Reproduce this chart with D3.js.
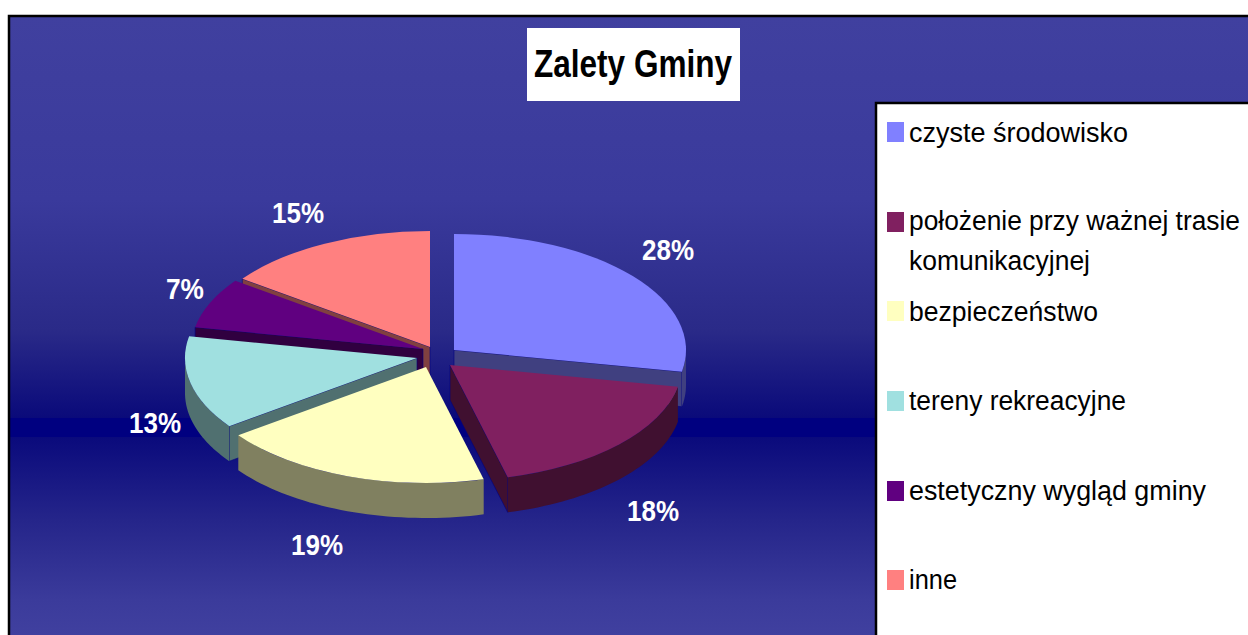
<!DOCTYPE html>
<html><head><meta charset="utf-8">
<script src="https://cdn.jsdelivr.net/npm/d3@7"></script>
<style>html,body{margin:0;padding:0;background:#fff;overflow:hidden}svg{display:block}text{font-family:"Liberation Sans",Arial,sans-serif}</style>
</head><body><svg id="c" width="1248" height="635"></svg>
<script>
const categories = ["czyste środowisko","położenie przy ważnej trasie komunikacyjnej","bezpieczeństwo","tereny rekreacyjne","estetyczny wygląd gminy","inne"];
const values = [28,18,19,13,7,15];
const topColors = ["#8080ff","#802060","#ffffc0","#a0e0e0","#600080","#ff8080"];
const wallColors = ["#404080","#401030","#808060","#507070","#300040","#804040"];
const legendLines = [["czyste środowisko"],["położenie przy ważnej trasie","komunikacyjnej"],["bezpieczeństwo"],["tereny rekreacyjne"],["estetyczny wygląd gminy"],["inne"]];

// layout
const W=1248,H=635,RX=232,RY=116,DEPTH=35,k=RY/RX;
const centers=[[454,350],[450,365],[426,367],[417,358],[423,349],[430,347]];
const labelPos=[[668,260],[653,521],[317,555],[155,433],[185,299],[298,223]];
const legendTop=[122,212,301,391,481,570];
const legendBase=[[142],[230,270],[321],[410],[500],[589]];
const legendWidth=[[219],[331,181],[189],[217],[297],[48]];
const drawOrder=[0,5,4,3,1,2];

const svg=d3.select("#c");
const defs=svg.append("defs");
const g=defs.append("linearGradient").attr("id","bg").attr("gradientUnits","userSpaceOnUse").attr("x1",0).attr("y1",0).attr("x2",0).attr("y2",H);
[[17,"#40409f"],[200,"#3a3a9c"],[330,"#2a2a88"],[418,"#0a0a7a"],[418,"#000080"],[437,"#000080"],[437,"#0a0a7c"],[520,"#25258a"],[600,"#3b3b9b"],[635,"#40409f"]]
 .forEach(([o,c])=>g.append("stop").attr("offset",o/H).attr("stop-color",c));

svg.append("rect").attr("x",9).attr("y",16).attr("width",W).attr("height",H).attr("fill","url(#bg)").attr("stroke","#000").attr("stroke-width",2.5);

// title
svg.append("rect").attr("x",527).attr("y",28).attr("width",213).attr("height",73).attr("fill","#fff");
svg.append("text").attr("x",534).attr("y",77).attr("font-size",38).attr("font-weight","bold").attr("textLength",198).attr("lengthAdjust","spacingAndGlyphs").attr("fill","#000").text("Zalety Gminy");

// pie
const arcs=d3.pie().sort(null).value(d=>d)(values);
const arc=d3.arc().innerRadius(0).outerRadius(RX);
const px=(c,a)=>c[0]+RX*Math.sin(a), py=(c,a)=>c[1]-RY*Math.cos(a);
const line=d3.line();
const pieG=svg.append("g");
const P=Math.PI;
drawOrder.forEach(i=>{
  const a=arcs[i],c=centers[i],a0=a.startAngle,a1=a.endAngle;
  const walls=pieG.append("g").attr("fill",wallColors[i]);
  const radial=(ang)=>[[c[0],c[1]],[px(c,ang),py(c,ang)],[px(c,ang),py(c,ang)+DEPTH],[c[0],c[1]+DEPTH]];
  if(Math.cos(a0-P/2)<-0.01) walls.append("path").attr("d",line(radial(a0))+"Z").attr("stroke","#000080").attr("stroke-width",0.6);
  if(Math.cos(a1+P/2)<-0.01) walls.append("path").attr("d",line(radial(a1))+"Z").attr("stroke","#000080").attr("stroke-width",0.6);
  const s=Math.max(a0,P/2),e=Math.min(a1,3*P/2);
  if(e>s){
    const angs=d3.range(0,41).map(t=>s+(e-s)*t/40);
    const pts=angs.map(t=>[px(c,t),py(c,t)]).concat(angs.slice().reverse().map(t=>[px(c,t),py(c,t)+DEPTH]));
    walls.append("path").attr("d",line(pts)+"Z");
  }
  pieG.append("path").attr("d",arc(a)).attr("fill",topColors[i])
    .attr("transform",`translate(${c[0]},${c[1]}) scale(1,${k})`);
});

// data labels
svg.append("g").selectAll("text").data(values).join("text")
 .attr("x",(d,i)=>labelPos[i][0]).attr("y",(d,i)=>labelPos[i][1])
 .attr("text-anchor","middle").attr("font-size",30).attr("font-weight","bold").attr("fill","#fff")
 .attr("textLength",d=>d<10?38:52).attr("lengthAdjust","spacingAndGlyphs")
 .text(d=>d+"%");

// legend
svg.append("rect").attr("x",876).attr("y",103).attr("width",W).attr("height",H).attr("fill","#fff").attr("stroke","#000").attr("stroke-width",2.5);
categories.forEach((cat,i)=>{
  svg.append("rect").attr("x",887).attr("y",legendTop[i]).attr("width",17).attr("height",20).attr("fill",topColors[i]);
  legendLines[i].forEach((t,j)=>{
    svg.append("text").attr("x",909).attr("y",legendBase[i][j]).attr("font-size",27).attr("fill","#000")
      .attr("textLength",legendWidth[i][j]).attr("lengthAdjust","spacingAndGlyphs").text(t);
  });
});
</script></body></html>
